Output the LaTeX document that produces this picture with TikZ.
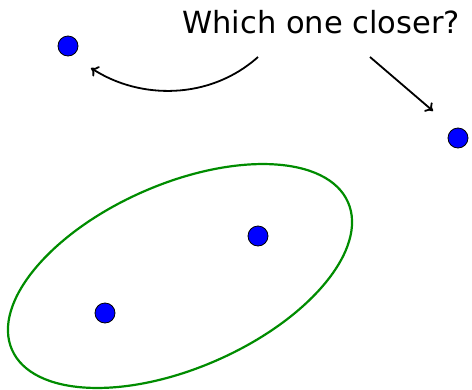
\documentclass[tikz,border=0pt]{standalone}
\usepackage{fontspec}
\setmainfont{DejaVu Sans}
\usetikzlibrary{arrows.meta}
\tikzset{dot/.style={circle, draw=black, fill=blue, line width=0.8pt, minimum size=20pt, inner sep=0pt},
        myarrow/.style={-{To[length=7pt,width=12pt]}, line width=1.8pt}}

\begin{document}
\begin{tikzpicture}[x=1pt, y=-1pt]
	\useasboundingbox (0,0) rectangle (472,389);

	\node (question) at (321,22) {\fontsize{30.5}{36}\selectfont Which one closer?};

	\node (far) [dot] at (68,46) {};
	\node (near) [dot] at (458,138) {};
	\node (inA) [dot] at (258,236) {};
	\node (inB) [dot] at (105,313) {};

	\draw[green!55!black, line width=2.2pt, rotate around={23.7:(180,276)}] (180,276) ellipse (183.5pt and 92pt);

	\coordinate (leftstart) at (258,57);
	\coordinate (leftend) at (91,68);
	\coordinate (rightstart) at (370,57);
	\coordinate (rightend) at (433,111);

\draw[myarrow] (leftstart) .. controls (210,100) and (140,100) .. (leftend);
\draw[myarrow] (rightstart) -- (rightend);

\end{tikzpicture}
\end{document}
